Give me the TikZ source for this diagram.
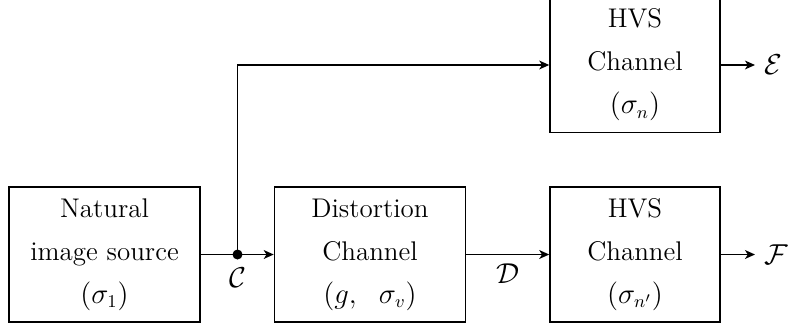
\documentclass[tikz,border=0pt]{standalone}
\usetikzlibrary{arrows.meta}
\begin{document}
\begin{tikzpicture}[x=0.5pt,y=-0.5pt,
  every node/.style={font=\fontsize{13.5pt}{21.5pt}\selectfont},
  block/.style={draw,line width=0.75pt,align=center,inner sep=0pt},
  bigblock/.style={block,minimum width=95.5pt,minimum height=67.5pt},
  hvsblock/.style={block,minimum width=85pt,minimum height=67.5pt},
  flow/.style={line width=0.9pt,-{Stealth[length=5pt,width=4.4pt,inset=1.4pt]}},
  plain/.style={line width=0.9pt},
  outlabel/.style={inner sep=4.5pt,anchor=west}]
\useasboundingbox (0,0) rectangle (795,327);

% blocks
\node[bigblock] (src) at (104.5,254.5) {Natural\\image source\\$(\sigma_1)$};
\node[bigblock] (dist) at (370,254.5) {Distortion\\Channel\\$(g,\ \ \sigma_v)$};
\node[hvsblock] (hvsE) at (635,65) {HVS\\Channel\\$(\sigma_n)$};
\node[hvsblock] (hvsF) at (635,254.5) {HVS\\Channel\\$(\sigma_{n'})$};

% branch point on the source output
\coordinate (split) at (237.5,254.5);
\coordinate (bend) at (237.5,65);
\fill (split) circle (2.5pt);
\node (C) at (237.5,278) {$\mathcal{C}$};

% connectors
\draw[plain] (src.east) -- (split);
\draw[flow] (split) -- (dist.west);
\draw[flow] (split) -- (bend) -- (hvsE.west);
\draw[flow] (dist.east) -- node[below=1pt] {$\mathcal{D}$} (hvsF.west);

% outputs
\node[outlabel] (E) at (755,65) {$\mathcal{E}$};
\node[outlabel] (F) at (755,254.5) {$\mathcal{F}$};
\draw[flow] (hvsE.east) -- (E.west);
\draw[flow] (hvsF.east) -- (F.west);
\end{tikzpicture}
\end{document}
